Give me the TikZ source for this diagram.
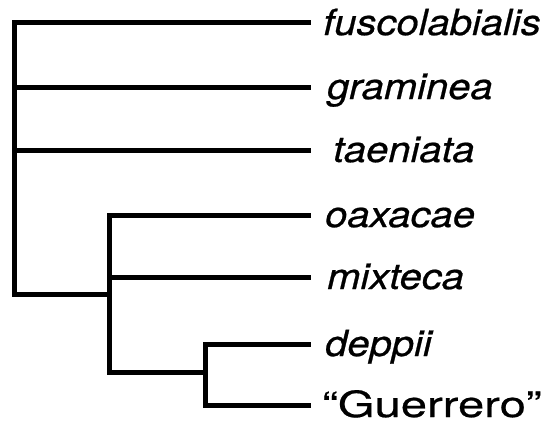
\documentclass[tikz,border=0pt]{standalone}
\usepackage{fontspec}
\setmainfont{TeX Gyre Heros}
% slightly widened, slightly heavier Helvetica-like faces for the labels
\newfontfamily\taxitfam[Ligatures=TeX,FakeStretch=1.11,FakeBold=0.6]{TeX Gyre Heros}
\newfontfamily\taxupfam[Ligatures=TeX,FakeStretch=1.31,FakeBold=0.6]{TeX Gyre Heros}
\begin{document}
\begin{tikzpicture}[x=1pt,y=-1pt,
  branch/.style={line width=5pt,line cap=rect,line join=miter},
  taxon/.style={anchor=base west,inner sep=0pt,font=\taxitfam\fontsize{36}{40}\selectfont\itshape},
  taxonup/.style={anchor=base west,inner sep=0pt,font=\taxupfam\fontsize{36}{40}\selectfont}]
\useasboundingbox (0,0) rectangle (552,424);
% tips of the tree
\coordinate (tfus) at (308,22.5);
\coordinate (tgra) at (308,87.5);
\coordinate (ttae) at (308,150);
\coordinate (toax) at (308,215);
\coordinate (tmix) at (308,277.5);
\coordinate (tdep) at (308,344.5);
\coordinate (tgue) at (308,405.5);
% internal nodes
\coordinate (root) at (14.5,294.5);
\coordinate (inner) at (109.5,372.5);
\coordinate (pair) at (205.5,375);
% taxon labels
\node[taxon] (fus) at (323,35) {fuscolabialis};
\node[taxon] (gra) at (327,99) {graminea};
\node[taxon] (tae) at (333,162) {taeniata};
\node[taxon] (oax) at (325,227) {oaxacae};
\node[taxon] (mix) at (327,289) {mixteca};
\node[taxon] (dep) at (325,356) {deppii};
\node[taxonup] (gue) at (322,417) {“Guerrero”};
% branches
\draw[branch] (tfus) -| (root) -- (inner |- root);
\draw[branch] (tgra) -- (root |- tgra);
\draw[branch] (ttae) -- (root |- ttae);
\draw[branch] (toax) -| (inner) -- (pair |- inner);
\draw[branch] (tmix) -- (inner |- tmix);
\draw[branch] (tdep) -| (pair |- tgue) -- (tgue);
\end{tikzpicture}
\end{document}
